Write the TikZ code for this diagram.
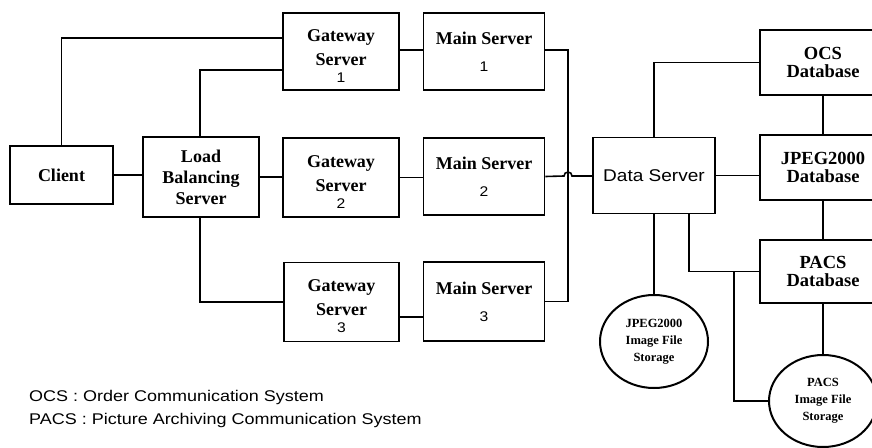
\documentclass[tikz,border=0pt]{standalone}
\usepackage{fontspec}
\setmainfont{Liberation Serif}
\newfontfamily\sansw[FakeStretch=1.12]{Liberation Sans}
\newfontfamily\sanslg[FakeStretch=1.16]{Liberation Sans}
\usetikzlibrary{shapes.geometric}
\newcommand\dnum[1]{{\sansw\mdseries\fontsize{14}{14}\selectfont #1}}
\newcommand\gwtop{\rule{0pt}{21pt}}
\begin{document}
\begin{tikzpicture}[x=1pt,y=-1pt,
  box/.style={draw, line width=1.6pt, align=center, inner sep=0pt,
    font=\bfseries\fontsize{18}{24}\selectfont},
  dbbox/.style={box, minimum width=126, font=\bfseries\fontsize{18.5}{18}\selectfont},
  store/.style={ellipse, draw, line width=2pt, align=center, inner sep=0pt,
    minimum width=108, minimum height=93, font=\bfseries\fontsize{12.5}{17}\selectfont},
  conn/.style={line width=1.6pt},
  legend/.style={anchor=west, inner sep=0pt, font=\sanslg\fontsize{15.5}{15.5}\selectfont}]
\clip (0,0) rectangle (872,447);
% left part
\node[box, minimum width=103, minimum height=58] (client) at (61.5,175) {Client};
\node[box, minimum width=116, minimum height=80] (lb) at (201,177) {Load\\[-3pt]Balancing\\[-3pt]Server};
\node[box, minimum width=116, minimum height=77] (gw1) at (341,51.5) {\gwtop Gateway\\Server\\[-7pt]\dnum{1}};
\node[box, minimum width=116, minimum height=79] (gw2) at (341,177.5) {\gwtop Gateway\\Server\\[-7pt]\dnum{2}};
\node[box, minimum width=115, minimum height=79] (gw3) at (341.5,302) {\gwtop Gateway\\Server\\[-7pt]\dnum{3}};
\node[box, minimum width=121, minimum height=77] (m1) at (484,51.5) {Main Server\\[3pt]\dnum{1}};
\node[box, minimum width=121, minimum height=77] (m2) at (484,176.5) {Main Server\\[3pt]\dnum{2}};
\node[box, minimum width=121, minimum height=79] (m3) at (484,301.5) {Main Server\\[3pt]\dnum{3}};
% right part
\node[box, minimum width=122, minimum height=76, font=\sansw\fontsize{17}{20}\selectfont] (ds) at (654,175.5) {Data Server};
\node[dbbox, minimum height=65] (ocs) at (823,62.5) {OCS\\Database};
\node[dbbox, minimum height=65] (jdb) at (823,167.5) {JPEG2000\\Database};
\node[dbbox, minimum height=63] (pdb) at (823,271.5) {PACS\\Database};
\node[store] (jst) at (654,341.5) {JPEG2000\\Image File\\Storage};
\node[store, minimum height=92] (pst) at (823,401) {PACS\\Image File\\Storage};
% legend
\node[legend] (l1) at (29,397) {OCS : Order Communication System};
\node[legend] (l2) at (29,420) {PACS : Picture Archiving Communication System};
% connectors left
\draw[conn] (client.north) |- ([yshift=13.5pt]gw1.west);
\draw[conn] ([xshift=-1pt]lb.north) |- ([yshift=-18.5pt]gw1.west);
\draw[conn] (client.east) -- (client.east -| lb.west);
\draw[conn] (lb.east) -- (lb.east -| gw2.west);
\draw[conn] ([xshift=-1pt]lb.south) |- (gw3.west);
\draw[conn] ([yshift=1.5pt]gw1.east) -- ([yshift=1.5pt]m1.west);
\draw[conn] (gw2.east) -- (gw2.east -| m2.west);
\draw[conn] ([yshift=-15pt]gw3.east) -- ([yshift=-15pt]gw3.east -| m3.west);
% bus
\coordinate (hop) at (568,176);
\draw[conn] ([yshift=1.5pt]m1.east) -| (hop |- m3.east) -- (m3.east);
\draw[conn] (m2.east) -- ([xshift=-4pt]hop) arc[start angle=180, end angle=360, radius=4] -- (ds.west |- hop);
% data server connectors
\draw[conn] (ds.north) |- (ocs.west);
\draw[conn] (ds.east) -- (ds.east -| jdb.west);
\draw[conn] (ds.south) -- (jst.north);
\draw[conn] ([xshift=35pt]ds.south) |- (pdb.west);
\coordinate (br) at (734,271.5);
\draw[conn] (br) |- (pst.west);
\draw[conn] (ocs.south) -- (jdb.north);
\draw[conn] (jdb.south) -- (pdb.north);
\draw[conn] (pdb.south) -- (pst.north);
\end{tikzpicture}
\end{document}
